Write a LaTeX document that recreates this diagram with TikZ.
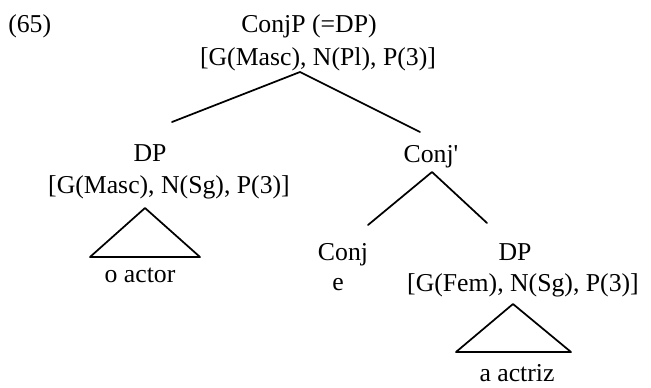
\documentclass[tikz,border=0pt]{standalone}
\usepackage{fontspec}
\setmainfont{Liberation Serif}
\usetikzlibrary{positioning}
\tikzset{
	txt/.style={inner sep=0pt,anchor=base,font=\fontsize{19.3}{23}\selectfont},
	branch/.style={line width=1.3pt,line cap=round,line join=round}
}
\newcommand{\lab}[4]{\node[txt] (#1) at (#2,#3) {#4};}
\newcommand{\tri}[3]{\draw[branch] (#1) -- (#2) -- (#3) -- cycle;}

\begin{document}
\begin{tikzpicture}[x=0.75pt,y=-0.75pt]
    \useasboundingbox (0,0) rectangle (651,387);

    % labels
    \node[txt,anchor=base west] (ex) at (8,32) {(65)};
    \lab{conjp}{309}{32}{ConjP (=DP)}
    \lab{conjpf}{318}{65}{[G(Masc), N(Pl), P(3)]}
    \lab{dpm}{150}{161}{DP}
    \lab{dpmf}{169}{193}{[G(Masc), N(Sg), P(3)]}
    \lab{actor}{140}{282}{o actor}
    \lab{conjbar}{431}{162}{Conj\textquotesingle}
    \lab{conj}{343}{260}{Conj}
    \lab{e}{338}{290}{e}
    \lab{dpf}{515}{260}{DP}
    \lab{dpff}{523}{291}{[G(Fem), N(Sg), P(3)]}
    \lab{actriz}{517}{381}{a actriz}

    % branch points
    \coordinate (top) at (300,72);
    \coordinate (topl) at (172,122);
    \coordinate (topr) at (420,132);
    \coordinate (cb) at (432,172);
    \coordinate (cbl) at (368,225);
    \coordinate (cbr) at (487,223);

    \draw[branch] (topl) -- (top) -- (topr);
    \draw[branch] (cbl) -- (cb) -- (cbr);

    % triangles
    \coordinate (ma) at (145,208);
    \coordinate (ml) at (90,257);
    \coordinate (mr) at (200,257);
    \coordinate (fa) at (513,304);
    \coordinate (fl) at (456,352);
    \coordinate (fr) at (571,352);
    \tri{ma}{ml}{mr}
    \tri{fa}{fl}{fr}
\end{tikzpicture}
\end{document}
